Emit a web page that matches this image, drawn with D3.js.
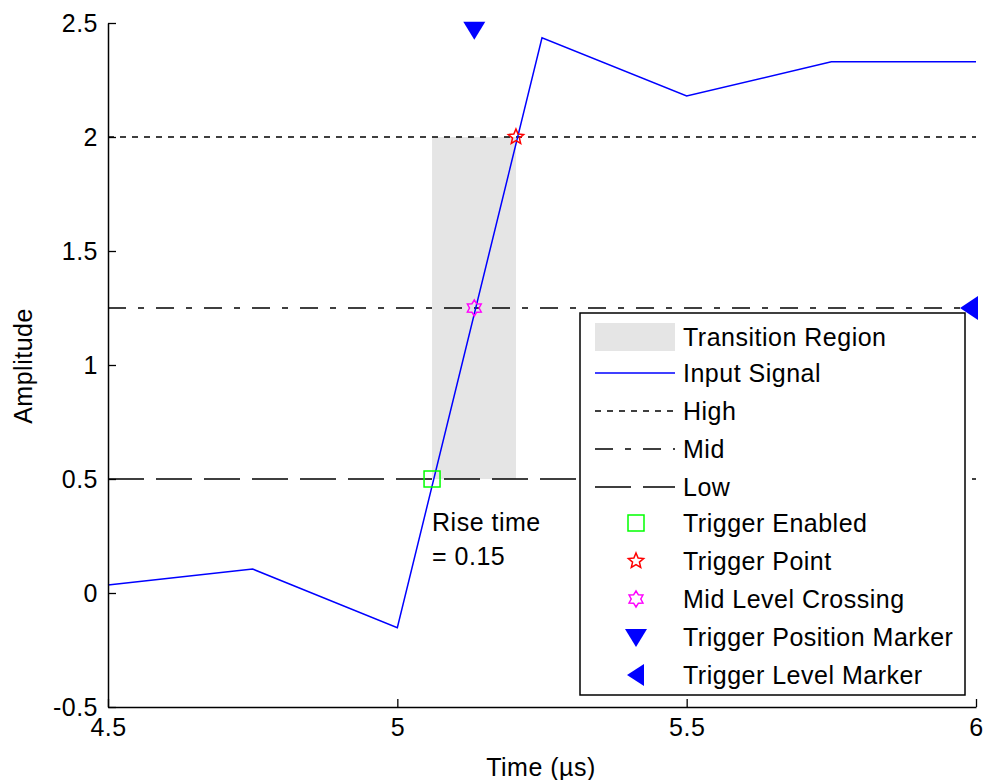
<!DOCTYPE html>
<html>
<head>
<meta charset="utf-8">
<script src="https://cdn.jsdelivr.net/npm/d3@7"></script>
<style>
  body { margin: 0; background: #fff; }
  text { font-family: Arial, "Liberation Sans", sans-serif; fill: #000; letter-spacing: 0.5px; }
</style>
</head>
<body>
<div class="chart"></div>
<script>
// signal samples (time in us, amplitude)
var sigTime = [4.5, 4.75, 5.0, 5.25, 5.5, 5.75, 6.0];
var sigAmp = [0.035, 0.105, -0.152, 2.435, 2.18, 2.33, 2.33];

// reference levels
var levelNames = ["High", "Mid", "Low"];
var levelValues = [2, 1.25, 0.5];

// transition region / markers
var transX = [5.06, 5.205];
var transY = [0.5, 2];
var trigEnabled = [5.06, 0.5];
var trigPoint = [5.205, 2];
var midCross = [5.133, 1.25];
var trigPosMarker = [5.133, 2.47];
var trigLevelMarker = [6, 1.25];

var xTicks = [4.5, 5, 5.5, 6];
var yTicks = [-0.5, 0, 0.5, 1, 1.5, 2, 2.5];

var legendLabels = ["Transition Region", "Input Signal", "High", "Mid", "Low",
  "Trigger Enabled", "Trigger Point", "Mid Level Crossing",
  "Trigger Position Marker", "Trigger Level Marker"];

var svgWidth = 984, svgHeight = 780;
var margin = { top: 23, right: 8, bottom: 73, left: 108 };
var chartWidth = 976 - margin.left;
var chartHeight = 707 - margin.top;

var svg = d3.select(".chart").append("svg")
  .attr("width", svgWidth)
  .attr("height", svgHeight);

var chartGroup = svg.append("g")
  .attr("transform", `translate(${margin.left}, ${margin.top})`);

var x = d3.scaleLinear().domain([4.5, 6]).range([0, chartWidth]);
var y = d3.scaleLinear().domain([-0.5, 2.5]).range([chartHeight, 0]);

var dashes = { High: "6,6", Mid: "18,12,6,12", Low: "36,12" };

// transition region
chartGroup.append("rect")
  .attr("x", x(transX[0]))
  .attr("y", y(transY[1]))
  .attr("width", x(transX[1]) - x(transX[0]))
  .attr("height", y(transY[0]) - y(transY[1]))
  .attr("fill", "#e5e5e5");

// level lines
levelValues.forEach(function (v, i) {
  chartGroup.append("line")
    .attr("x1", 0).attr("x2", chartWidth)
    .attr("y1", y(v)).attr("y2", y(v))
    .attr("stroke", "#000")
    .attr("stroke-width", 1.3)
    .attr("stroke-dasharray", dashes[levelNames[i]]);
});

// input signal
var sigData = sigTime.map(function (t, i) { return [t, sigAmp[i]]; });
chartGroup.append("path")
  .datum(sigData)
  .attr("fill", "none")
  .attr("stroke", "#0000ff")
  .attr("stroke-width", 1.5)
  .attr("d", d3.line().x(d => x(d[0])).y(d => y(d[1])));

// marker shapes
function starPath(r, n, inner) {
  var pts = [];
  for (var k = 0; k < n * 2; k++) {
    var rr = k % 2 === 0 ? r : r * inner;
    var a = -Math.PI / 2 + k * Math.PI / n;
    pts.push([rr * Math.cos(a), rr * Math.sin(a)]);
  }
  return "M" + pts.map(p => p.join(",")).join("L") + "Z";
}

function drawMarker(g, kind, cx, cy) {
  var m = g.append("g").attr("transform", `translate(${cx}, ${cy})`);
  if (kind === "square") {
    m.append("rect").attr("x", -8).attr("y", -8).attr("width", 16).attr("height", 16)
      .attr("fill", "none").attr("stroke", "#00ff00").attr("stroke-width", 1.5);
  } else if (kind === "star") {
    m.append("path").attr("d", starPath(8, 5, 0.45))
      .attr("fill", "none").attr("stroke", "#ff0000").attr("stroke-width", 1.5);
  } else if (kind === "hex") {
    m.append("path").attr("d", starPath(8, 6, 0.6))
      .attr("fill", "none").attr("stroke", "#ff00ff").attr("stroke-width", 1.5);
  } else if (kind === "down") {
    m.append("path").attr("d", "M-11,-8L11,-8L0,10Z").attr("fill", "#0000ff");
  } else if (kind === "left") {
    m.append("path").attr("d", "M-16,0L2,-12L2,12Z").attr("fill", "#0000ff");
  } else if (kind === "leftLegend") {
    m.append("path").attr("d", "M-9,0L8,-11L8,11Z").attr("fill", "#0000ff");
  }
}

drawMarker(chartGroup, "square", x(trigEnabled[0]), y(trigEnabled[1]));
drawMarker(chartGroup, "star", x(trigPoint[0]), y(trigPoint[1]));
drawMarker(chartGroup, "hex", x(midCross[0]), y(midCross[1]));
drawMarker(chartGroup, "down", x(trigPosMarker[0]), y(trigPosMarker[1]));
drawMarker(chartGroup, "left", x(trigLevelMarker[0]), y(trigLevelMarker[1]));

// rise time annotation
var rise = chartGroup.append("text")
  .attr("x", x(transX[0]))
  .attr("y", y(0.5) + 52)
  .style("font-size", "25px");
rise.append("tspan").attr("x", x(transX[0])).text("Rise time");
rise.append("tspan").attr("x", x(transX[0])).attr("dy", 34).text("= 0.15");

// axes (ticks inward, no box)
var bottomAxis = d3.axisBottom(x).tickValues(xTicks).tickFormat(d => String(d)).tickSizeInner(-8).tickSizeOuter(0).tickPadding(11);
var leftAxis = d3.axisLeft(y).tickValues(yTicks).tickFormat(d => String(d)).tickSizeInner(-8).tickSizeOuter(0).tickPadding(10);

var gx = chartGroup.append("g")
  .attr("transform", `translate(0, ${chartHeight})`)
  .call(bottomAxis);
var gy = chartGroup.append("g").call(leftAxis);

[gx, gy].forEach(function (g) {
  g.selectAll("path").attr("stroke", "#000").attr("stroke-width", 1.5);
  g.selectAll("line").attr("stroke", "#000").attr("stroke-width", 1.3);
  g.selectAll("text").style("font-size", "25px").attr("fill", "#000")
    .style("font-family", "Arial, 'Liberation Sans', sans-serif");
});
gx.selectAll("text").attr("dy", "0.71em");

// axis labels
svg.append("text")
  .attr("x", margin.left + chartWidth / 2 - 1)
  .attr("y", 776)
  .attr("text-anchor", "middle")
  .style("font-size", "25px")
  .text("Time (µs)");

svg.append("text")
  .attr("transform", "translate(32, 366) rotate(-90)")
  .attr("text-anchor", "middle")
  .style("font-size", "25px")
  .text("Amplitude");

// legend
var lg = svg.append("g").attr("transform", "translate(580, 313)");
lg.append("rect").attr("width", 385).attr("height", 382)
  .attr("fill", "#fff").attr("stroke", "#000").attr("stroke-width", 1.5);

var rowY = [24, 60, 98, 136, 174, 210, 248, 286, 324, 362];
legendLabels.forEach(function (lab, i) {
  var cy = rowY[i];
  if (i === 0) {
    lg.append("rect").attr("x", 15).attr("y", cy - 14).attr("width", 80).attr("height", 28).attr("fill", "#e5e5e5");
  } else if (i === 1) {
    lg.append("line").attr("x1", 15).attr("x2", 95).attr("y1", cy).attr("y2", cy)
      .attr("stroke", "#0000ff").attr("stroke-width", 1.5);
  } else if (i <= 4) {
    lg.append("line").attr("x1", 15).attr("x2", 95).attr("y1", cy).attr("y2", cy)
      .attr("stroke", "#000").attr("stroke-width", 1.3)
      .attr("stroke-dasharray", dashes[levelNames[i - 2]]);
  } else {
    var kinds = ["square", "star", "hex", "down", "leftLegend"];
    drawMarker(lg, kinds[i - 5], 56, cy);
  }
  lg.append("text")
    .attr("x", 103).attr("y", cy)
    .attr("dy", "0.35em")
    .style("font-size", "25px")
    .text(lab);
});
</script>
</body>
</html>
